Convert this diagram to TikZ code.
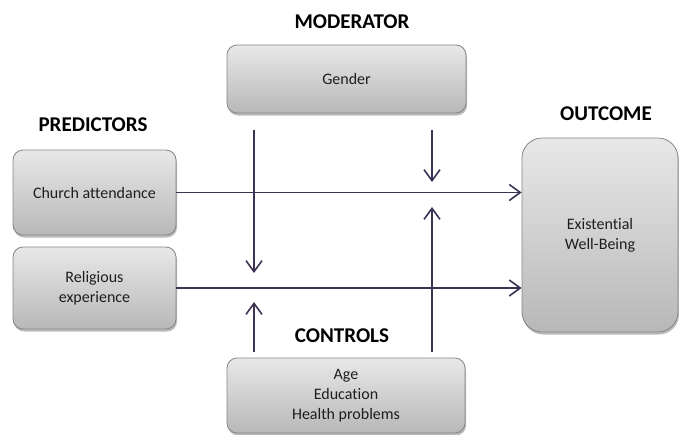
\documentclass[tikz,border=0pt]{standalone}
\usepackage{fontspec}
\setmainfont{Carlito}[Ligatures=NoCommon]
\usetikzlibrary{arrows.meta,shadows}
\definecolor{arrcol}{HTML}{3C3254}
\definecolor{boxline}{HTML}{858585}
\definecolor{boxtop}{HTML}{E8E8E8}
\definecolor{boxbot}{HTML}{B8B8B8}
\definecolor{txtcol}{HTML}{1E1E1E}
\begin{document}
\begin{tikzpicture}[x=1pt,y=-1pt,
  gbox/.style={draw=boxline, line width=0.8pt, rounded corners=10pt,
    top color=boxtop, bottom color=boxbot, align=center, text=txtcol,
    font=\fontsize{16}{20}\selectfont, inner sep=0pt,
    drop shadow={shadow xshift=1pt, shadow yshift=-2.5pt, fill=black!45, opacity=0.6}},
  hlabel/.style={font=\fontsize{21}{25}\selectfont\bfseries, text=black, inner sep=0pt},
  arr/.style={draw=arrcol, line width=1.6pt, -{Straight Barb[length=11pt,width=16pt,line width=1.6pt]}}]
\useasboundingbox (0,0) rectangle (679,434);
% boxes
\node[gbox, minimum width=239pt, minimum height=68pt] (gender) at (346.5,79) {Gender};
\node[gbox, minimum width=238pt, minimum height=75pt] (controls) at (346,395.5) {Age\\Education\\Health problems};
\node[gbox, minimum width=163pt, minimum height=85pt] (church) at (94.5,192.5) {Church attendance};
\node[gbox, minimum width=163pt, minimum height=82pt] (relig) at (94.5,288) {Religious\\experience};
\node[gbox, minimum width=156pt, minimum height=194pt, rounded corners=20pt] (outcome) at (600,235) {Existential\\Well-Being};
% headings
\node[hlabel] (lmod) at (352,22) {MODERATOR};
\node[hlabel] (lpred) at (93,125) {PREDICTORS};
\node[hlabel] (lout) at (606,114) {OUTCOME};
\node[hlabel] (lctl) at (342,336) {CONTROLS};
% free ends of moderator/control arrows
\coordinate (m1s) at (254,130);
\coordinate (m1e) at (254,273);
\coordinate (m2s) at (432,130);
\coordinate (m2e) at (432,182);
\coordinate (c1s) at (254,352);
\coordinate (c1e) at (254,302);
\coordinate (c2s) at (432,352);
\coordinate (c2e) at (432,207);
% connectors
\draw[arr] (church.east) -- (church.east -| outcome.west);
\draw[arr] (relig.east) -- (relig.east -| outcome.west);
\draw[arr] (m1s) -- (m1e);
\draw[arr] (m2s) -- (m2e);
\draw[arr] (c1s) -- (c1e);
\draw[arr] (c2s) -- (c2e);
\end{tikzpicture}
\end{document}
